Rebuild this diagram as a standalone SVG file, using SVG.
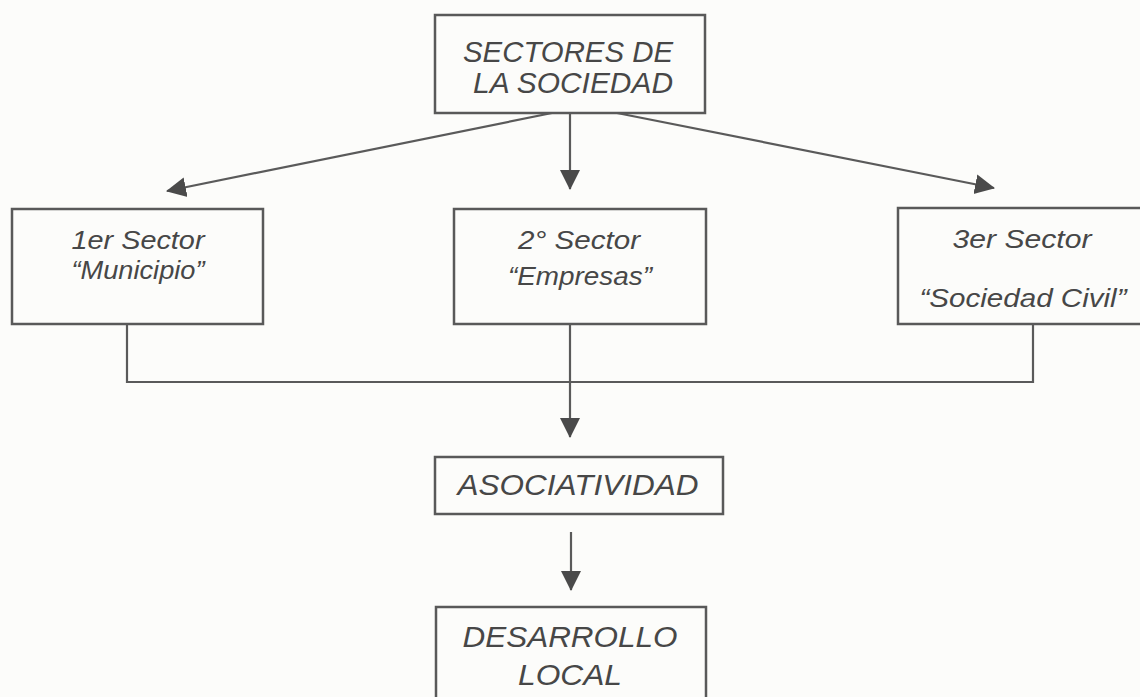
<svg xmlns="http://www.w3.org/2000/svg" width="1140" height="697" viewBox="0 0 1140 697">
<style>
.box{fill:none;stroke:#595959;stroke-width:2.5}
.ln{fill:none;stroke:#5a5a5a;stroke-width:2.2}
.t{font-family:"Liberation Sans",Arial,sans-serif;font-style:italic;fill:#474747;text-anchor:middle}
.big{font-size:30px}
.sm{font-size:25px}
</style>
<defs>
<marker id="ahb" viewBox="0 0 20 22" refX="19" refY="11" markerWidth="20" markerHeight="22" orient="auto" markerUnits="userSpaceOnUse">
<path d="M0,1 L20,11 L0,21 Z" fill="#4a4a4a"/>
</marker>
</defs>
<rect width="1140" height="697" fill="#fcfcfa"/>
<g id="connectors">
<line class="ln" x1="552" y1="113" x2="167" y2="191" marker-end="url(#ahb)"/>
<line class="ln" x1="570" y1="113" x2="570" y2="189" marker-end="url(#ahb)"/>
<line class="ln" x1="617" y1="113" x2="994" y2="188" marker-end="url(#ahb)"/>
<polyline class="ln" points="127,324 127,382 1033,382 1033,324"/>
<line class="ln" x1="570" y1="324" x2="570" y2="437" marker-end="url(#ahb)"/>
<line class="ln" x1="571" y1="532" x2="571" y2="590" marker-end="url(#ahb)"/>
</g>
<g id="sectores">
<rect class="box" x="435" y="15" width="270" height="98"/>
<text class="t big" x="568" y="62" textLength="210" lengthAdjust="spacingAndGlyphs">SECTORES DE</text>
<text class="t big" x="573" y="93" textLength="200" lengthAdjust="spacingAndGlyphs">LA SOCIEDAD</text>
</g>
<g id="sector1">
<rect class="box" x="12" y="209" width="251" height="115"/>
<text class="t sm" x="138" y="249" textLength="133" lengthAdjust="spacingAndGlyphs">1er Sector</text>
<text class="t sm" x="138" y="279" textLength="133" lengthAdjust="spacingAndGlyphs">“Municipio”</text>
</g>
<g id="sector2">
<rect class="box" x="454" y="209" width="252" height="115"/>
<text class="t sm" x="579" y="249" textLength="122" lengthAdjust="spacingAndGlyphs">2° Sector</text>
<text class="t sm" x="580" y="285" textLength="144" lengthAdjust="spacingAndGlyphs">“Empresas”</text>
</g>
<g id="sector3">
<rect class="box" x="898" y="208" width="260" height="116"/>
<text class="t sm" x="1022" y="248" textLength="139" lengthAdjust="spacingAndGlyphs">3er Sector</text>
<text class="t sm" x="1023" y="307" textLength="207" lengthAdjust="spacingAndGlyphs">“Sociedad Civil”</text>
</g>
<g id="asociatividad">
<rect class="box" x="435" y="457" width="288" height="57"/>
<text class="t big" x="578" y="495" textLength="241" lengthAdjust="spacingAndGlyphs">ASOCIATIVIDAD</text>
</g>
<g id="desarrollo">
<rect class="box" x="436" y="607" width="270" height="110"/>
<text class="t big" x="570" y="647" textLength="215" lengthAdjust="spacingAndGlyphs">DESARROLLO</text>
<text class="t big" x="570" y="685" textLength="104" lengthAdjust="spacingAndGlyphs">LOCAL</text>
</g>
</svg>
